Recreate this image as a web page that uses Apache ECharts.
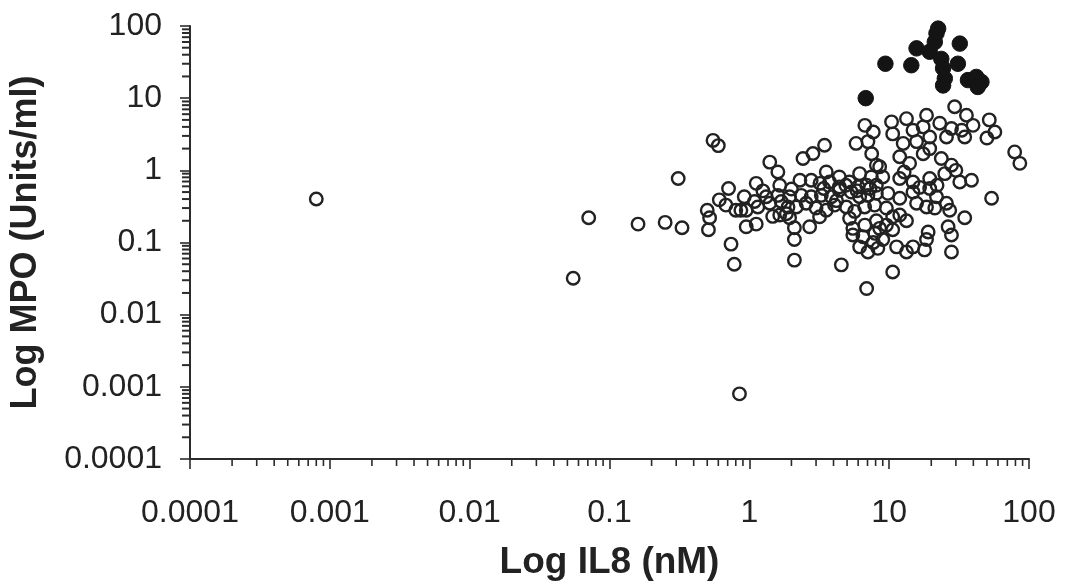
<!DOCTYPE html>
<html>
<head>
<meta charset="utf-8">
<script src="https://cdn.jsdelivr.net/npm/echarts@6/dist/echarts.min.js"></script>
<style>
html,body{margin:0;padding:0;background:#fff;}
#chart{width:1070px;height:587px;}
</style>
</head>
<body>
<div id="chart"></div>
<script>
// ---- tick labels ----
const xTickLabels = ['0.0001','0.001','0.01','0.1','1','10','100'];
const yTickLabels = ['0.0001','0.001','0.01','0.1','1','10','100'];
const minorFactors = [2,3,4,5,6,7,8,9];

// ---- open circles: IL8 (nM) and MPO (Units/ml) ----
const openIL8 = [0.0008,0.055,0.071,0.16,0.25,0.33,0.31,0.55,0.6,0.5,0.52,0.51,0.61,0.71,0.74,0.78,0.8,0.87,0.85,
  1.4,1.6,1.12,1.65,0.92,1.09,1.32,1.6,1.94,0.95,1.15,1.4,1.69,1.84,2.17,0.95,1.12,1.47,1.94,2.1,2.1,2.1,1.65,
  3.45,2.85,2.42,6.7,7.7,5.8,7.05,7.5,8.1,3.55,4.4,6.15,7.46,2.3,2.77,3.2,3.75,4.4,5.2,6.0,6.9,8.1,
  2.35,2.77,3.27,3.86,4.4,5.36,6.15,7.05,8.1,2.55,3.0,3.55,4.07,4.94,5.66,6.68,7.87,2.7,3.18,5.21,5.5,6.7,8.1,
  5.5,6.5,7.9,6.15,7.7,7.05,8.3,4.55,6.9,10.6,
  29.4,35.7,52,57,50,10.4,13.3,18.5,23,27.9,34.7,10.6,14.8,12.6,15.7,19.5,25.7,79,86,11.9,14,17.5,19.5,23.6,27.9,
  8.55,9.0,11.9,14.8,19.5,25,32,38.8,9.8,11.9,14.8,19.5,21.8,25.7,15.7,18.5,21.2,27.1,54,9.55,11.9,13.3,8.55,10.6,9.0,
  34.7,26.4,27.9,19,18.5,14.8,13.3,17.9,27.9,39.8,17.5,9.55,10.6,11.3,33,1.89,
  1.25,0.68,2.0,4.9,5.9,7.3,3.4,4.2,16.5,22,12.8,30];
const openMPO = [0.4,0.032,0.22,0.18,0.19,0.16,0.77,2.6,2.2,0.28,0.22,0.15,0.39,0.56,0.095,0.05,0.28,0.28,0.0008,
  1.3,0.95,0.66,0.62,0.43,0.37,0.43,0.45,0.43,0.28,0.31,0.35,0.37,0.25,0.31,0.165,0.18,0.23,0.22,0.11,0.057,0.16,0.24,
  2.23,1.71,1.46,4.2,3.4,2.36,2.5,1.7,1.18,0.95,0.81,0.9,0.81,0.73,0.73,0.66,0.69,0.59,0.69,0.59,0.62,0.62,
  0.45,0.43,0.45,0.43,0.53,0.5,0.43,0.45,0.48,0.35,0.3,0.28,0.33,0.31,0.27,0.31,0.33,0.165,0.227,0.216,0.157,0.174,0.2,
  0.127,0.12,0.134,0.087,0.1,0.074,0.083,0.049,0.023,0.039,
  7.6,5.8,5.0,3.4,2.8,4.7,5.2,5.8,4.5,3.8,2.9,3.2,3.6,2.36,2.5,2.9,2.9,1.8,1.25,1.54,1.25,1.7,2.0,1.46,1.18,
  1.12,0.81,0.77,0.69,0.77,0.9,0.69,0.73,0.48,0.41,0.5,0.56,0.43,0.35,0.35,0.31,0.3,0.28,0.41,0.3,0.24,0.2,0.157,0.15,0.11,
  0.22,0.165,0.127,0.14,0.11,0.087,0.074,0.079,0.074,4.2,4.0,0.174,0.227,0.087,3.6,0.31,
  0.52,0.33,0.55,0.62,0.52,0.56,0.56,0.38,0.58,0.62,0.95,1.0];

// ---- filled circles ----
const filledIL8 = [6.8,9.4,14.4,15.7,19.5,21.8,22.4,21.2,23.6,24.3,25,24.3,32,31,36.6,42,45.7,43];
const filledMPO = [10,30,28.6,49,44,79,92,60,35,26,18.7,15,57,30,17.8,19.7,16.8,14.3];

const openData = openIL8.map((x,i)=>[x, openMPO[i]]);
const filledData = filledIL8.map((x,i)=>[x, filledMPO[i]]);

const X_MIN = 0.0001, X_MAX = 100, Y_MIN = 0.0001, Y_MAX = 100;
// minor tick values along each axis (other coordinate is a dummy in-range value)
const xMinorTicks = [], yMinorTicks = [];
for (let e = -4; e < 2; e++) {
  minorFactors.forEach(f => {
    xMinorTicks.push([f * Math.pow(10, e), 1]);
    yMinorTicks.push([1, f * Math.pow(10, e)]);
  });
}

const AX = '#2b2b2b';
const FONT = 'Liberation Sans, Arial, sans-serif';
const fmt = labels => v => labels[Math.round(Math.log10(v)) + 4];

const chart = echarts.init(document.getElementById('chart'), null, {renderer:'canvas'});
chart.setOption({
  animation: false,
  backgroundColor: '#ffffff',
  grid: {left: 190, right: 41, top: 26, bottom: 128, containLabel: false},
  xAxis: {
    type: 'log', logBase: 10, min: X_MIN, max: X_MAX, interval: 1,
    name: 'Log IL8 (nM)', nameLocation: 'middle', nameGap: 85,
    nameTextStyle: {fontFamily: FONT, fontSize: 37, fontWeight: 'bold', color: '#222'},
    axisLine: {show: true, lineStyle: {color: AX, width: 2}},
    axisTick: {show: true, inside: false, length: 10, lineStyle: {color: AX, width: 1.6}},
    axisLabel: {formatter: fmt(xTickLabels), margin: 38, fontFamily: FONT, fontSize: 32, color: '#222'},
    splitLine: {show: false}
  },
  yAxis: {
    type: 'log', logBase: 10, min: Y_MIN, max: Y_MAX, interval: 1,
    name: 'Log MPO (Units/ml)', nameLocation: 'middle', nameGap: 146, nameRotate: 90,
    nameTextStyle: {fontFamily: FONT, fontSize: 36, fontWeight: 'bold', color: '#222'},
    axisLine: {show: true, lineStyle: {color: AX, width: 2}},
    axisTick: {show: true, inside: false, length: 10, lineStyle: {color: AX, width: 1.6}},
    axisLabel: {formatter: fmt(yTickLabels), margin: 28, fontFamily: FONT, fontSize: 32, color: '#222'},
    splitLine: {show: false}
  },
  series: [
    {
      type: 'custom', silent: true, clip: false, data: xMinorTicks, z: 5,
      renderItem: (params, api) => {
        const p = api.coord([api.value(0), api.value(1)]);
        const cs = params.coordSys;
        const yb = cs.y + cs.height;
        return {type: 'line', shape: {x1: p[0], y1: yb, x2: p[0], y2: yb + 7}, style: {stroke: AX, lineWidth: 1.6}};
      }
    },
    {
      type: 'custom', silent: true, clip: false, data: yMinorTicks, z: 5,
      renderItem: (params, api) => {
        const p = api.coord([api.value(0), api.value(1)]);
        const cs = params.coordSys;
        return {type: 'line', shape: {x1: cs.x - 8, y1: p[1], x2: cs.x, y2: p[1]}, style: {stroke: AX, lineWidth: 2}};
      }
    },
    {
      name: 'open', type: 'scatter', data: openData, symbol: 'circle', symbolSize: 12.5, z: 3,
      itemStyle: {color: 'rgba(255,255,255,0)', borderColor: '#222', borderWidth: 2.4, opacity: 1}
    },
    {
      name: 'filled', type: 'scatter', data: filledData, symbol: 'circle', symbolSize: 15.5, z: 4,
      itemStyle: {color: '#141414', borderColor: '#141414', borderWidth: 1, opacity: 1}
    }
  ]
});
</script>
</body>
</html>
